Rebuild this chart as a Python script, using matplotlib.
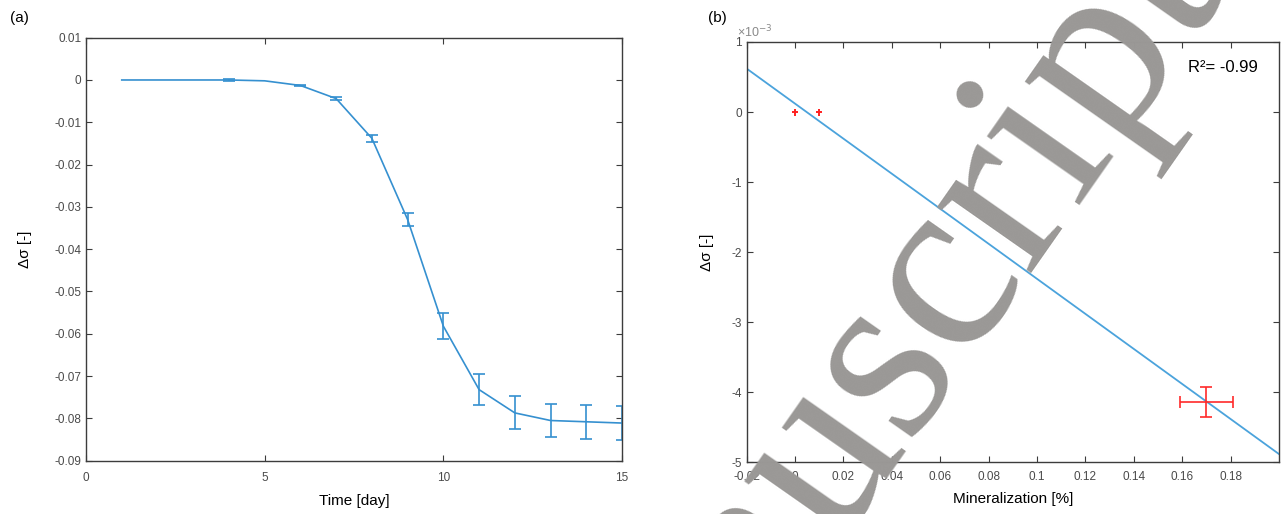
import numpy as np
import matplotlib
matplotlib.use("Agg")
import matplotlib.pyplot as plt

plt.rcParams['font.family'] = ['Liberation Sans', 'DejaVu Sans']
plt.rcParams['axes.unicode_minus'] = False

# (a) time series
days = [1, 2, 3, 4, 5, 6, 7, 8, 9, 10, 11, 12, 13, 14, 15]
dsig = [0, 0, 0, 0, -0.0002, -0.0013, -0.0044, -0.0138, -0.0330, -0.0582,
        -0.0732, -0.0787, -0.0805, -0.0808, -0.0811]
dsig_err = [0, 0, 0, 0.0002, 0, 0.0002, 0.0003, 0.0008, 0.0016, 0.0030,
            0.0037, 0.0039, 0.0039, 0.0040, 0.0040]

# (b) mineralization vs delta sigma
miner = [0.0, 0.01, 0.17]
miner_err = [0.0012, 0.0012, 0.011]
dsig_b = [0.0, 0.0, -4.14e-3]
dsig_b_err = [0.05e-3, 0.05e-3, 0.21e-3]
r2_text = 'R²= -0.99'

tick_col = '#4a4a4a'
spine_col = '#3c3c3c'
blue = '#3590d0'

fig = plt.figure(figsize=(12.82, 5.14), dpi=100)

def fmt(v):
    return '%g' % (round(v, 6) + 0.0)

def matlab_style(ax):
    for s in ax.spines.values():
        s.set_color(spine_col)
        s.set_linewidth(1.0)
    ax.tick_params(direction='in', top=True, right=True, length=4,
                   width=0.8, color=spine_col, labelcolor=tick_col, labelsize=8.5)

# panel a
ax1 = fig.add_axes([0.0671, 0.1037, 0.4181, 0.823])
ax1.plot(days, dsig, color=blue, lw=1.2)
d = np.array(days)
e = np.array(dsig_err)
m = e > 0
ax1.errorbar(d[m], np.array(dsig)[m], yerr=e[m], fmt='none', ecolor=blue,
             elinewidth=1.2, capsize=4, capthick=1.2)
ax1.set_xlim(0, 15)
ax1.set_ylim(-0.09, 0.01)
ax1.set_xticks([0, 5, 10, 15])
yt = np.round(np.arange(-0.09, 0.011, 0.01), 2)
ax1.set_yticks(yt)
ax1.set_yticklabels([fmt(v) for v in yt])
matlab_style(ax1)
ax1.tick_params(axis='x', pad=8)
ax1.set_xlabel('Time [day]', fontsize=11, labelpad=7)
ax1.set_ylabel('Δσ [-]', fontsize=11, labelpad=16)

# panel b
ax2 = fig.add_axes([0.5823, 0.1006, 0.4154, 0.8177])
coef = np.polyfit(miner, dsig_b, 1)
xl = np.array([-0.02, 0.2])
ax2.plot(xl, np.polyval(coef, xl), color='#4ba3dc', lw=1.3)
ax2.errorbar(miner[:2], dsig_b[:2], xerr=miner_err[:2], yerr=dsig_b_err[:2],
             fmt='none', ecolor='#ff2020', elinewidth=1.4, capsize=0)
ax2.errorbar(miner[2:], dsig_b[2:], xerr=miner_err[2:], yerr=dsig_b_err[2:],
             fmt='none', ecolor='#ff2a2a', elinewidth=1.2, capsize=4, capthick=1.2)
ax2.set_xlim(-0.02, 0.2)
ax2.set_ylim(-5e-3, 1e-3)
xt = np.round(np.arange(-0.02, 0.19, 0.02), 2)
ax2.set_xticks(xt)
ax2.set_xticklabels([fmt(v) for v in xt])
yt2 = np.arange(-5, 2)
ax2.set_yticks(yt2 * 1e-3)
ax2.set_yticklabels([fmt(v) for v in yt2])
matlab_style(ax2)
ax2.tick_params(axis='x', pad=6)
ax2.set_xlabel('Mineralization [%]', fontsize=11, labelpad=7)
ax2.set_ylabel('Δσ [-]', fontsize=11, labelpad=12)
ax2.text(-0.018, 1.005, '×10$^{-3}$', transform=ax2.transAxes, fontsize=9,
         color='#8a8a8a', ha='left', va='bottom')
ax2.text(0.96, 0.94, r2_text, transform=ax2.transAxes, fontsize=12,
         ha='right', va='center')

fig.text(0.008, 0.965, '(a)', fontsize=11, va='center')
fig.text(0.552, 0.965, '(b)', fontsize=11, va='center')

# watermark
fig.text(899 / 1282, 1 - 452 / 514, 'Manuscript', fontsize=180,
         family='Liberation Serif', color='#9a9896', rotation=55,
         rotation_mode='anchor', ha='center', va='baseline')

fig.savefig('out.png', dpi=100)
